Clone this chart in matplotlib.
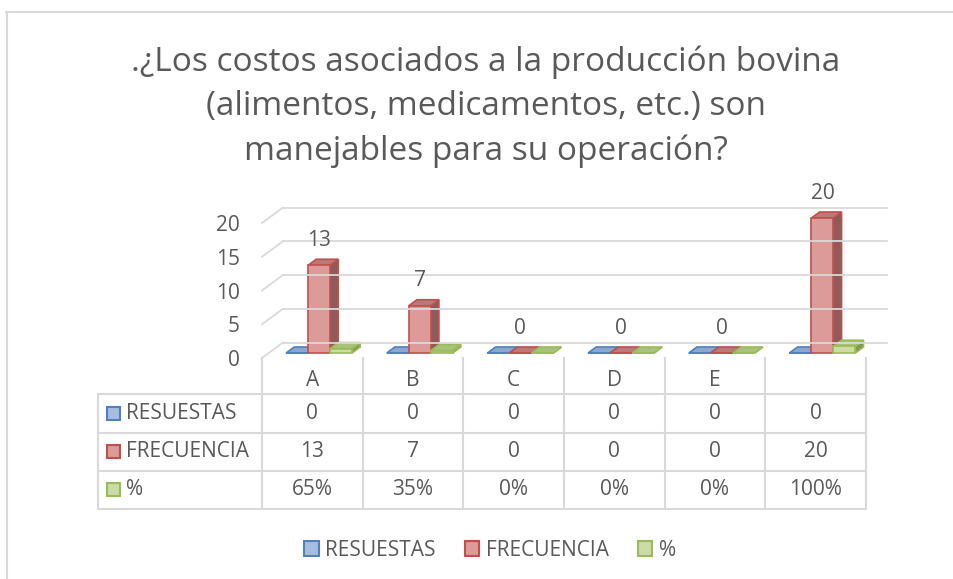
import matplotlib.pyplot as plt
from matplotlib.lines import Line2D
from matplotlib.patches import Patch, Polygon, Rectangle

plt.rcParams['font.family'] = ['Open Sans', 'DejaVu Sans']

categorias = ["A", "B", "C", "D", "E", ""]
resuestas = [0, 0, 0, 0, 0, 0]
frecuencia = [13, 7, 0, 0, 0, 20]
porcentaje = [0.65, 0.35, 0, 0, 0, 1.0]
series_nombres = ["RESUESTAS", "FRECUENCIA", "%"]
y_ticks = [0, 5, 10, 15, 20]

titulo = (".¿Los costos asociados a la producción bovina\n"
          "(alimentos, medicamentos, etc.) son\n"
          "manejables para su operación?")

GRIS_TXT = "#595959"
GRIS_LIN = "#d9d9d9"
FS = 15
# frente, lateral, tapa, borde
colores = [
    ("#a7bde0", "#5f789f", "#8ea6cc", "#4f81bd"),
    ("#dc9a98", "#8e5b5a", "#b97a79", "#c0504d"),
    ("#cbdca6", "#7f9752", "#a9c27a", "#9bbb59"),
]

W, H = 954, 579
fig = plt.figure(figsize=(W / 100, H / 100), dpi=100)


def fx(px):
    return px / W


def fy(py):
    return 1 - py / H


# area del grafico (plano frontal)
x0_px, x1_px, base_px, top_px = 262, 866, 358, 190
px_x = (x1_px - x0_px) / 6
px_v = 135 / 20
ax = fig.add_axes([fx(x0_px), fy(base_px), (x1_px - x0_px) / W, (base_px - top_px) / H])
ax.set_xlim(0, 6)
ax.set_ylim(0, (base_px - top_px) / px_v)
for s in ax.spines.values():
    s.set_visible(False)
ax.set_xticks([])
ax.set_yticks(y_ticks)
ax.tick_params(axis="y", length=0, pad=16, labelsize=FS, labelcolor=GRIS_TXT)

# profundidad 3D
DX = 21 / px_x
DY = 15.5 / px_v
Z0, Z1 = 0.32, 0.71


def proj(x, v, z):
    return (x + z * DX, v + z * DY)


for t in y_ticks:
    ax.plot([0, DX], [t, t + DY], color=GRIS_LIN, lw=1.3, clip_on=False)
    ax.plot([DX, 6 + DX], [t + DY, t + DY], color=GRIS_LIN, lw=1.3, clip_on=False)

w = 0.2185
for i in range(len(categorias)):
    for j, vals in enumerate([resuestas, frecuencia, porcentaje]):
        v = vals[i]
        xl = i + 0.5 + (j - 1.5) * w
        xr = xl + w
        fc, sc, tc, ec = colores[j]
        lado = [proj(xr, 0, Z0), proj(xr, v, Z0), proj(xr, v, Z1), proj(xr, 0, Z1)]
        tapa = [proj(xl, v, Z0), proj(xr, v, Z0), proj(xr, v, Z1), proj(xl, v, Z1)]
        ax.add_patch(Polygon(lado, closed=True, facecolor=sc, edgecolor=ec, lw=1.2, clip_on=False))
        ax.add_patch(Polygon(tapa, closed=True, facecolor=tc, edgecolor=ec, lw=1.2, clip_on=False))
        ax.bar(xl + Z0 * DX, v, width=w, bottom=Z0 * DY, align="edge",
               color=fc, edgecolor=ec, lw=1.2, clip_on=False)

for i, v in enumerate(frecuencia):
    ax.annotate(str(v), xy=(i + 0.5 + Z0 * DX, v + Z0 * DY), xytext=(0, 18),
                textcoords="offset points", ha="center", va="center",
                fontsize=FS, color=GRIS_TXT)

# tabla de datos
tab_left = 98
col_edges = [x0_px + k * px_x for k in range(7)]
row_edges = [394, 432.5, 470.5, 508.5]
for y in row_edges:
    fig.add_artist(Line2D([fx(tab_left), fx(x1_px)], [fy(y), fy(y)], color=GRIS_LIN, lw=1.5))
fig.add_artist(Line2D([fx(tab_left)] * 2, [fy(row_edges[0]), fy(row_edges[-1])], color=GRIS_LIN, lw=1.5))
for x in col_edges:
    fig.add_artist(Line2D([fx(x)] * 2, [fy(base_px), fy(row_edges[-1])], color=GRIS_LIN, lw=1.5))

for i, c in enumerate(categorias):
    cx = (col_edges[i] + col_edges[i + 1]) / 2
    fig.text(fx(cx), fy(381), c, ha="center", va="center", fontsize=FS, color=GRIS_TXT)

filas = [
    [str(v) for v in resuestas],
    [str(v) for v in frecuencia],
    [f"{round(p * 100)}%" for p in porcentaje],
]
for r, nombre in enumerate(series_nombres):
    cy = (row_edges[r] + row_edges[r + 1]) / 2
    fc, sc, tc, ec = colores[r]
    fig.add_artist(Rectangle((fx(107), fy(cy + 6.5)), 13 / W, 13 / H,
                             facecolor=fc, edgecolor=ec, lw=1.5))
    fig.text(fx(126), fy(cy), nombre, ha="left", va="center", fontsize=FS, color=GRIS_TXT)
    for i, txt in enumerate(filas[r]):
        cx = (col_edges[i] + col_edges[i + 1]) / 2
        fig.text(fx(cx), fy(cy), txt, ha="center", va="center", fontsize=FS, color=GRIS_TXT)

# leyenda
handles = [Patch(facecolor=c[0], edgecolor=c[3], lw=1.5, label=n)
           for c, n in zip(colores, series_nombres)]
fig.legend(handles=handles, loc="center", bbox_to_anchor=(fx(490), fy(550)), ncol=3,
           frameon=False, fontsize=FS, handlelength=0.7, handleheight=0.7,
           handletextpad=0.3, columnspacing=1.4, labelcolor=GRIS_TXT)

# titulo y borde
fig.text(fx(486), fy(107), titulo, ha="center", va="center", fontsize=24,
         color=GRIS_TXT, linespacing=1.45)
fig.add_artist(Line2D([fx(7), fx(7)], [fy(12), 0], color=GRIS_LIN, lw=1.5))
fig.add_artist(Line2D([fx(6), 1], [fy(12), fy(12)], color=GRIS_LIN, lw=1.5))

fig.savefig("out.png", dpi=100)
